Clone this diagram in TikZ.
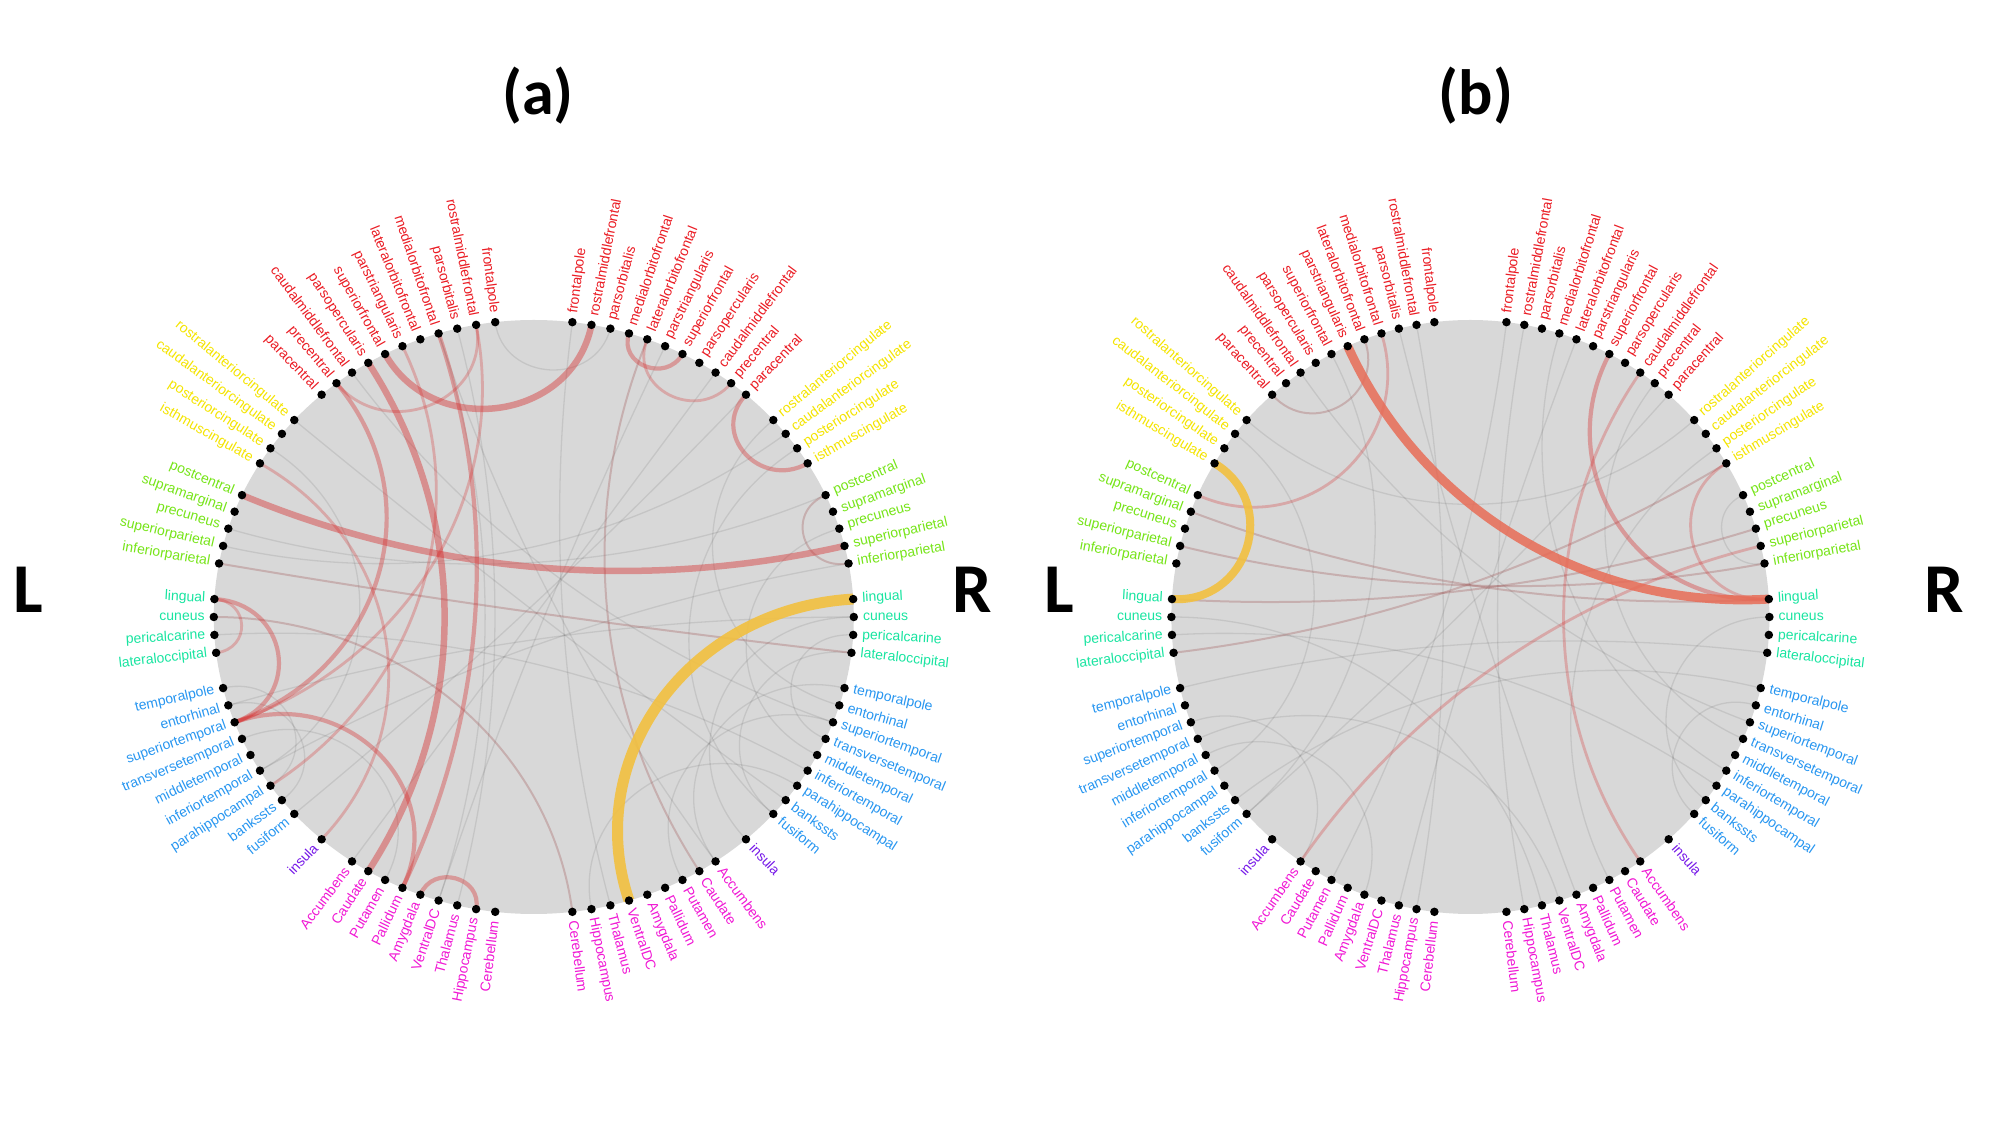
\documentclass[tikz,border=0pt]{standalone}
\usepackage{fontspec}
\setmainfont{Liberation Sans}
\newfontfamily\headfont{Carlito}
\usetikzlibrary{calc,backgrounds}

\definecolor{frontal}{RGB}{234,28,36}
\definecolor{cingul}{RGB}{244,228,0}
\definecolor{pariet}{RGB}{118,228,24}
\definecolor{occip}{RGB}{24,228,160}
\definecolor{tempor}{RGB}{40,150,240}
\definecolor{insul}{RGB}{118,24,232}
\definecolor{subcort}{RGB}{240,24,212}
\definecolor{disk}{RGB}{216,216,216}
\definecolor{chordred}{RGB}{214,44,44}
\definecolor{chordbrown}{RGB}{150,60,60}
\definecolor{chordgold}{RGB}{242,192,64}
\definecolor{chordsalmon}{RGB}{232,108,86}

\tikzset{
  regdot/.style={circle,fill=black,inner sep=0pt,minimum size=8.5pt},
  regname/.style={inner sep=0pt,font=\fontsize{14}{16}\selectfont},
  head/.style={font=\headfont\bfseries\fontsize{64}{70}\selectfont},
  side/.style={font=\headfont\bfseries\fontsize{70}{76}\selectfont},
  wgray/.style={draw=black,draw opacity=.085,line width=1.3pt},
  wbrown/.style={draw=chordbrown,draw opacity=.26,line width=2pt},
  wthin/.style={draw=chordred,draw opacity=.28,line width=2.8pt},
  wmid/.style={draw=chordred,draw opacity=.36,line width=4.2pt},
  wthick/.style={draw=chordred,draw opacity=.42,line width=6.5pt},
  wgold/.style={draw=chordgold,draw opacity=.9,line width=11pt},
  wgoldsm/.style={draw=chordgold,draw opacity=.9,line width=8pt},
  wsalmon/.style={draw=chordsalmon,draw opacity=.85,line width=9pt}
}

% slot / region / colour, one hemisphere
\def\regionlist{0/frontalpole/frontal,1/rostralmiddlefrontal/frontal,2/parsorbitalis/frontal,3/medialorbitofrontal/frontal,4/lateralorbitofrontal/frontal,5/parstriangularis/frontal,6/superiorfrontal/frontal,7/parsopercularis/frontal,8/caudalmiddlefrontal/frontal,9/precentral/frontal,10/paracentral/frontal,12/rostralanteriorcingulate/cingul,13/caudalanteriorcingulate/cingul,14/posteriorcingulate/cingul,15/isthmuscingulate/cingul,17/postcentral/pariet,18/supramarginal/pariet,19/precuneus/pariet,20/superiorparietal/pariet,21/inferiorparietal/pariet,23/lingual/occip,24/cuneus/occip,25/pericalcarine/occip,26/lateraloccipital/occip,28/temporalpole/tempor,29/entorhinal/tempor,30/superiortemporal/tempor,31/transversetemporal/tempor,32/middletemporal/tempor,33/inferiortemporal/tempor,34/parahippocampal/tempor,35/bankssts/tempor,36/fusiform/tempor,38/insula/insul,40/Accumbens/subcort,41/Caudate/subcort,42/Putamen/subcort,43/Pallidum/subcort,44/Amygdala/subcort,45/VentralDC/subcort,46/Thalamus/subcort,47/Hippocampus/subcort,48/Cerebellum/subcort}

% panel / side / slot / side / slot / style
\def\chordlist{a/L/2/L/46/wgray,a/L/3/L/45/wgray,a/L/0/R/2/wgray,a/L/3/R/40/wgray,a/L/8/R/30/wgray,a/L/12/R/35/wgray,a/L/14/L/33/wgray,a/L/19/R/17/wgray,a/L/25/R/33/wgray,a/L/29/R/24/wgray,a/L/31/L/42/wgray,a/L/33/R/21/wgray,a/L/36/R/10/wgray,a/L/40/R/8/wgray,a/L/45/R/5/wgray,a/R/0/R/46/wgray,a/R/12/R/29/wgray,a/R/14/R/36/wgray,a/R/19/R/32/wgray,a/R/25/R/31/wgray,a/R/28/R/40/wgray,a/R/30/R/42/wgray,a/R/34/R/47/wgray,a/R/13/L/20/wgray,a/L/29/L/35/wgray,a/L/28/L/34/wgray,a/R/24/R/38/wgray,a/R/26/R/36/wgray,
a/R/17/R/21/wbrown,a/R/4/R/41/wbrown,a/L/24/R/48/wbrown,a/L/21/R/26/wbrown,
a/L/1/L/9/wthin,a/L/30/L/1/wthin,a/L/15/L/38/wthin,a/L/34/L/5/wthin,a/L/23/L/26/wthin,a/R/4/R/9/wthin,
a/L/9/L/30/wmid,a/L/3/L/43/wmid,a/L/44/L/47/wmid,a/L/23/L/30/wmid,a/L/30/L/43/wmid,a/R/3/R/6/wmid,a/R/10/R/15/wmid,
a/L/6/R/1/wthick,a/L/7/L/41/wthick,a/L/17/R/20/wthick,
a/R/23/R/45/wgold,
b/L/1/L/47/wgray,b/L/2/R/44/wgray,b/L/6/L/36/wgray,b/L/8/R/30/wgray,b/L/12/R/12/wgray,b/L/13/L/33/wgray,b/L/25/R/34/wgray,b/L/28/R/26/wgray,b/L/30/L/40/wgray,b/L/31/R/45/wgray,b/L/32/L/44/wgray,b/L/35/R/28/wgray,b/L/36/R/10/wgray,b/L/42/R/0/wgray,b/L/46/R/4/wgray,b/R/1/R/47/wgray,b/R/3/R/33/wgray,b/R/9/R/31/wgray,b/R/14/R/42/wgray,b/R/24/R/35/wgray,b/R/29/R/36/wgray,b/L/24/R/46/wgray,b/R/17/R/21/wgray,
b/L/10/L/4/wbrown,b/L/18/R/23/wbrown,b/L/20/R/21/wbrown,b/L/23/R/19/wbrown,b/L/26/R/15/wbrown,
b/L/3/L/17/wthin,b/L/40/R/20/wthin,b/R/8/R/40/wthin,b/R/15/R/23/wthin,
b/R/6/R/23/wmid,
b/L/15/L/23/wgoldsm,
b/L/5/R/23/wsalmon}

\begin{document}
\begin{tikzpicture}[x=1pt,y=1pt]
\useasboundingbox (0,0) rectangle (2000,1125);

\node[head] (ta) at (538,1029) {(a)};
\node[head] (tb) at (1476,1029) {(b)};
\node[side] (la) at (28,535) {L};
\node[side] (ra) at (972,535) {R};
\node[side] (lb) at (1059,535) {L};
\node[side] (rb) at (1944,535) {R};

% dots and region names
\foreach \p/\cx/\ax in {a/533.8/320,b/1470.4/299}{
  \coordinate (\p c) at (\cx,508);
  \foreach \k/\name/\col in \regionlist{
    \pgfmathsetmacro\tl{90+(\k+2)*3.461538}
    \pgfmathsetmacro\tr{90-(\k+2)*3.461538}
    \pgfmathsetmacro\rl{atan2(297*sin(\tl),\ax*cos(\tl))}
    \pgfmathsetmacro\rr{atan2(297*sin(\tr),\ax*cos(\tr))}
    \pgfmathsetmacro\rlt{\rl-180}
    \node[regdot] (\p L\k) at ({\cx+\ax*cos(\tl)},{508+297*sin(\tl)}) {};
    \node[regdot] (\p R\k) at ({\cx+\ax*cos(\tr)},{508+297*sin(\tr)}) {};
    \node[regname,text=\col,anchor=east,rotate=\rlt] (\p Lt\k) at ($(\p L\k)+(\rl:9)$) {\name};
    \node[regname,text=\col,anchor=west,rotate=\rr] (\p Rt\k) at ($(\p R\k)+(\rr:9)$) {\name};
  }
}

\begin{pgfonlayer}{background}
\fill[disk] (ac) ellipse [x radius=320,y radius=297];
\fill[disk] (bc) ellipse [x radius=299,y radius=297];
% links
\foreach \p/\sa/\ka/\sb/\kb/\wst in \chordlist{
  \if L\sa \def\sga{1}\else\def\sga{-1}\fi
  \if L\sb \def\sgb{1}\else\def\sgb{-1}\fi
  \pgfmathsetmacro\dang{abs(\sga*(\ka+2)-\sgb*(\kb+2))*3.461538}
  \pgfmathsetmacro\dang{min(\dang,360-\dang)}
  \pgfmathsetmacro\tq{tan(\dang/4)}
  \pgfmathsetmacro\kk{8/3*\tq/((1+\tq)*(1+\tq))}
  \draw[\wst] (\p\sa\ka.center) .. controls ($(\p\sa\ka.center)!\kk!(\p c)$) and ($(\p\sb\kb.center)!\kk!(\p c)$) .. (\p\sb\kb.center);
}
\end{pgfonlayer}
\end{tikzpicture}
\end{document}
